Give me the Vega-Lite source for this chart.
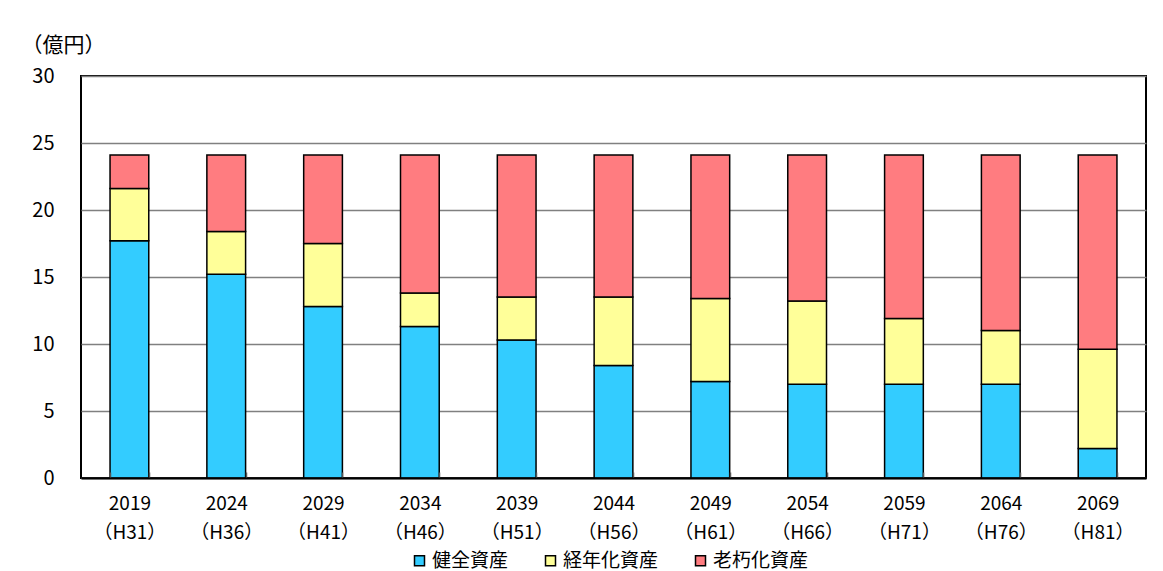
{
  "$schema": "https://vega.github.io/schema/vega-lite/v6.json",
  "autosize": "none",
  "width": 1065,
  "height": 402,
  "padding": {"left": 81, "top": 76, "right": 17, "bottom": 93},
  "background": "white",
  "config": {
    "font": "Noto Sans CJK JP",
    "view": {"stroke": "black", "strokeWidth": 2},
    "axis": {"labelColor": "black", "titleColor": "black", "labelFont": "Noto Sans CJK JP", "titleFont": "Noto Sans CJK JP"}
  },
  "data": {
    "values": [
      {"cat": "2019|（H31）", "type": "健全資産", "o": 1, "v": 17.7},
      {"cat": "2019|（H31）", "type": "経年化資産", "o": 2, "v": 3.9},
      {"cat": "2019|（H31）", "type": "老朽化資産", "o": 3, "v": 2.5},
      {"cat": "2024|（H36）", "type": "健全資産", "o": 1, "v": 15.2},
      {"cat": "2024|（H36）", "type": "経年化資産", "o": 2, "v": 3.2},
      {"cat": "2024|（H36）", "type": "老朽化資産", "o": 3, "v": 5.7},
      {"cat": "2029|（H41）", "type": "健全資産", "o": 1, "v": 12.8},
      {"cat": "2029|（H41）", "type": "経年化資産", "o": 2, "v": 4.7},
      {"cat": "2029|（H41）", "type": "老朽化資産", "o": 3, "v": 6.6},
      {"cat": "2034|（H46）", "type": "健全資産", "o": 1, "v": 11.3},
      {"cat": "2034|（H46）", "type": "経年化資産", "o": 2, "v": 2.5},
      {"cat": "2034|（H46）", "type": "老朽化資産", "o": 3, "v": 10.3},
      {"cat": "2039|（H51）", "type": "健全資産", "o": 1, "v": 10.3},
      {"cat": "2039|（H51）", "type": "経年化資産", "o": 2, "v": 3.2},
      {"cat": "2039|（H51）", "type": "老朽化資産", "o": 3, "v": 10.6},
      {"cat": "2044|（H56）", "type": "健全資産", "o": 1, "v": 8.4},
      {"cat": "2044|（H56）", "type": "経年化資産", "o": 2, "v": 5.1},
      {"cat": "2044|（H56）", "type": "老朽化資産", "o": 3, "v": 10.6},
      {"cat": "2049|（H61）", "type": "健全資産", "o": 1, "v": 7.2},
      {"cat": "2049|（H61）", "type": "経年化資産", "o": 2, "v": 6.2},
      {"cat": "2049|（H61）", "type": "老朽化資産", "o": 3, "v": 10.7},
      {"cat": "2054|（H66）", "type": "健全資産", "o": 1, "v": 7.0},
      {"cat": "2054|（H66）", "type": "経年化資産", "o": 2, "v": 6.2},
      {"cat": "2054|（H66）", "type": "老朽化資産", "o": 3, "v": 10.9},
      {"cat": "2059|（H71）", "type": "健全資産", "o": 1, "v": 7.0},
      {"cat": "2059|（H71）", "type": "経年化資産", "o": 2, "v": 4.9},
      {"cat": "2059|（H71）", "type": "老朽化資産", "o": 3, "v": 12.2},
      {"cat": "2064|（H76）", "type": "健全資産", "o": 1, "v": 7.0},
      {"cat": "2064|（H76）", "type": "経年化資産", "o": 2, "v": 4.0},
      {"cat": "2064|（H76）", "type": "老朽化資産", "o": 3, "v": 13.1},
      {"cat": "2069|（H81）", "type": "健全資産", "o": 1, "v": 2.2},
      {"cat": "2069|（H81）", "type": "経年化資産", "o": 2, "v": 7.4},
      {"cat": "2069|（H81）", "type": "老朽化資産", "o": 3, "v": 14.5}
    ]
  },
  "mark": {"type": "bar", "stroke": "black", "strokeWidth": 1.5},
  "encoding": {
    "x": {
      "field": "cat",
      "type": "nominal",
      "sort": null,
      "scale": {"paddingInner": 0.6, "paddingOuter": 0.3},
      "axis": {
        "title": null,
        "labelAngle": 0,
        "labelExpr": "split(datum.label, '|')",
        "labelFontSize": 19,
        "labelLineHeight": 29,
        "labelPadding": 22,
        "ticks": true,
        "tickBand": "extent",
        "tickSize": -6,
        "tickColor": "#555555",
        "tickWidth": 1.5,
        "domainColor": "black",
        "domainWidth": 2,
        "zindex": 1
      }
    },
    "y": {
      "field": "v",
      "type": "quantitative",
      "stack": "zero",
      "scale": {"domain": [0, 30]},
      "axis": {
        "title": "（億円）",
        "titleAngle": 0,
        "titleAlign": "center",
        "titleBaseline": "middle",
        "titleX": -18,
        "titleY": -31,
        "titleFontSize": 21,
        "titleFontWeight": "normal",
        "values": [0, 5, 10, 15, 20, 25, 30],
        "labelFontSize": 20,
        "labelPadding": 27,
        "ticks": false,
        "domain": false,
        "gridColor": "#808080",
        "gridWidth": 1.5,
        "gridOpacity": 1
      }
    },
    "color": {
      "field": "type",
      "type": "nominal",
      "scale": {"domain": ["健全資産", "経年化資産", "老朽化資産"], "range": ["#33CCFF", "#FFFF99", "#FF7C80"]},
      "legend": {
        "title": null,
        "orient": "none",
        "direction": "horizontal",
        "legendX": 329,
        "legendY": 475,
        "symbolType": "square",
        "symbolSize": 100,
        "symbolStrokeColor": "black",
        "symbolStrokeWidth": 1.5,
        "symbolOpacity": 1,
        "labelFontSize": 19,
        "labelColor": "black",
        "labelOffset": 3,
        "columnPadding": 32
      }
    },
    "order": {"field": "o", "type": "quantitative"}
  }
}
